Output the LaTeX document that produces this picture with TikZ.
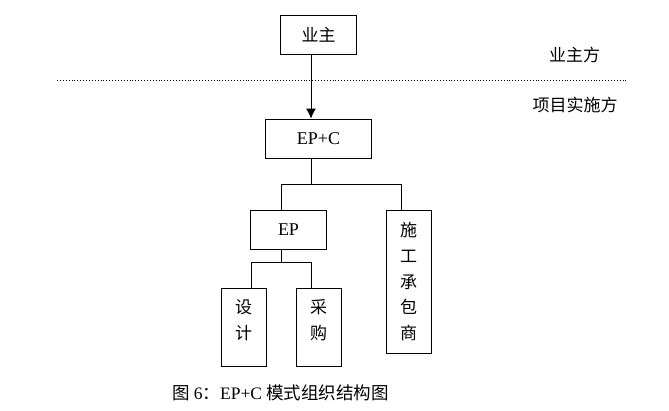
\documentclass[tikz,border=0pt]{standalone}
\usepackage{fontspec}
\setmainfont{Liberation Serif}
\newfontfamily\cjk{Noto Sans CJK SC}
\usetikzlibrary{arrows.meta}
\begin{document}
\begin{tikzpicture}[x=1pt,y=-1pt,
  box/.style={draw,line width=0.9pt,inner sep=0pt,font=\fontsize{18}{18}\selectfont},
  conn/.style={line width=0.9pt},
  lbl/.style={font=\fontsize{17}{17}\selectfont\cjk,inner sep=0pt}]
\useasboundingbox (0,0) rectangle (669,410);
\node[box,minimum width=76pt,minimum height=39pt] (yezhu) at (318.5,34.5) {\fontsize{17}{17}\selectfont\cjk 业主};
\node[box,minimum width=106pt,minimum height=39pt] (epc) at (318.5,138.5) {EP+C};
\node[box,minimum width=76pt,minimum height=39pt] (ep) at (288.5,229.5) {EP};
\node[box,minimum width=45pt,minimum height=143pt] (sg) at (408.5,281.5) {};
\node[box,minimum width=45pt,minimum height=78pt] (sj) at (243.5,327) {};
\node[box,minimum width=45pt,minimum height=78pt] (cg) at (318.5,327) {};
% vertical texts
\node[lbl] (sg1) at (408.5,230) {施};
\node[lbl] (sg2) at (408.5,256) {工};
\node[lbl] (sg3) at (408.5,282) {承};
\node[lbl] (sg4) at (408.5,307) {包};
\node[lbl] (sg5) at (408.5,333) {商};
\node[lbl] (sj1) at (243.5,307) {设};
\node[lbl] (sj2) at (243.5,333) {计};
\node[lbl] (cg1) at (318.5,307) {采};
\node[lbl] (cg2) at (318.5,333) {购};
% side labels
\node[lbl] (yzf) at (574.5,55) {业主方};
\node[lbl] (xmf) at (575,105) {项目实施方};
% dotted separator
\coordinate (dl) at (57,80);
\coordinate (dr) at (627,80);
\draw[line width=0.9pt,dotted] (dl) -- (dr);
% connectors
\coordinate (xa) at (311,0);
\coordinate (xb) at (281,0);
\coordinate (xc) at (401,0);
\coordinate (xd) at (251,0);
\coordinate (y1) at (0,184);
\coordinate (y2) at (0,262);
\draw[conn,-{Latex[length=10pt,width=10pt]}] (yezhu.south -| xa) -- (epc.north -| xa);
\draw[conn] (epc.south -| xa) -- (xa |- y1);
\draw[conn] (ep.north -| xb) -- (xb |- y1) -- (xc |- y1) -- (sg.north -| xc);
\draw[conn] (ep.south -| xb) -- (xb |- y2);
\draw[conn] (sj.north -| xd) -- (xd |- y2) -- (xa |- y2) -- (cg.north -| xa);
% caption
\node[inner sep=0pt,font=\fontsize{17.5}{17.5}\selectfont] (cap) at (280.5,393) {{\cjk 图} 6{\cjk ：}EP+C {\cjk 模式组织结构图}};
\end{tikzpicture}
\end{document}
